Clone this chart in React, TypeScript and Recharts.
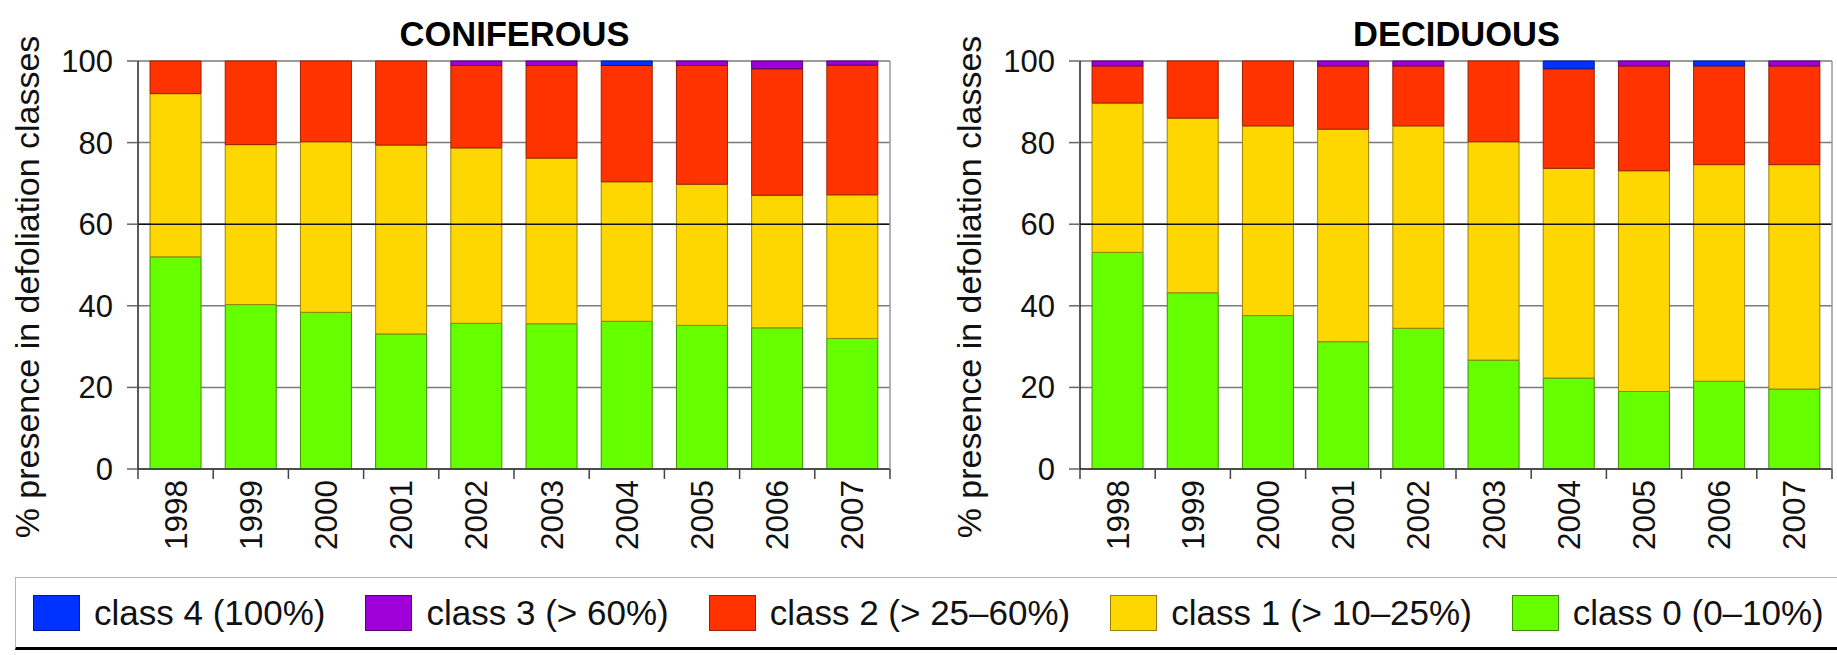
import React from 'react';
import { BarChart, Bar, XAxis, YAxis, CartesianGrid, ReferenceLine } from 'recharts';

const YEARS = ['1998', '1999', '2000', '2001', '2002', '2003', '2004', '2005', '2006', '2007'];

// coniferous, % of trees per defoliation class
const CON_CLASS0 = [52.0, 40.3, 38.4, 33.1, 35.7, 35.6, 36.2, 35.2, 34.6, 32.0];
const CON_CLASS1 = [40.0, 39.2, 41.8, 46.3, 43.0, 40.6, 34.2, 34.6, 32.5, 35.2];
const CON_CLASS2 = [8.0, 20.5, 19.8, 20.6, 20.2, 22.7, 28.5, 29.1, 31.0, 31.8];
const CON_CLASS3 = [0, 0, 0, 0, 1.1, 1.1, 0, 1.1, 1.9, 1.0];
const CON_CLASS4 = [0, 0, 0, 0, 0, 0, 1.1, 0, 0, 0];

// deciduous
const DEC_CLASS0 = [53.1, 43.2, 37.6, 31.2, 34.5, 26.7, 22.3, 19.0, 21.5, 19.6];
const DEC_CLASS1 = [36.6, 42.8, 46.5, 52.1, 49.6, 53.5, 51.4, 54.1, 53.1, 55.0];
const DEC_CLASS2 = [9.1, 14.0, 15.9, 15.5, 14.7, 19.8, 24.4, 25.7, 24.2, 24.2];
const DEC_CLASS3 = [1.2, 0, 0, 1.2, 1.2, 0, 0, 1.2, 0, 1.2];
const DEC_CLASS4 = [0, 0, 0, 0, 0, 0, 1.9, 0, 1.2, 0];

const Y_TICKS = [0, 20, 40, 60, 80, 100];

const CLASSES = [
  { key: 'c4', name: 'class 4 (100%)', fill: '#0033ff', stroke: '#001a99' },
  { key: 'c3', name: 'class 3 (> 60%)', fill: '#a000d8', stroke: '#550077' },
  { key: 'c2', name: 'class 2 (> 25–60%)', fill: '#ff3300', stroke: '#992000' },
  { key: 'c1', name: 'class 1 (> 10–25%)', fill: '#ffd700', stroke: '#9a8200' },
  { key: 'c0', name: 'class 0 (0–10%)', fill: '#66ff00', stroke: '#3d8f00' },
];

const FONT = '"Liberation Sans", Arial, Helvetica, sans-serif';

function buildRows(c0: number[], c1: number[], c2: number[], c3: number[], c4: number[]) {
  return YEARS.map((year, i) => ({ year, c0: c0[i], c1: c1[i], c2: c2[i], c3: c3[i], c4: c4[i] }));
}

const coniferous = buildRows(CON_CLASS0, CON_CLASS1, CON_CLASS2, CON_CLASS3, CON_CLASS4);
const deciduous = buildRows(DEC_CLASS0, DEC_CLASS1, DEC_CLASS2, DEC_CLASS3, DEC_CLASS4);

const CHART_W = 900;
const CHART_H = 560;
const MARGIN = { top: 61, right: 9, bottom: 0, left: 0 };
const Y_AXIS_W = 138;

// year label centred under the bar, tick marks on the category boundaries (like R barplot)
function YearTick(props: any) {
  const { x, y, payload, index, visibleTicksCount } = props;
  const half = payload && payload.offset ? payload.offset : (CHART_W - MARGIN.right - Y_AXIS_W) / YEARS.length / 2;
  const last = index === visibleTicksCount - 1;
  return (
    <g>
      <line x1={x - half} x2={x - half} y1={y} y2={y + 10} stroke="#444" strokeWidth={1.5} />
      {last && <line x1={x + half} x2={x + half} y1={y} y2={y + 10} stroke="#444" strokeWidth={1.5} />}
      <text
        transform={`translate(${x + 11},${y + 11}) rotate(-90)`}
        textAnchor="end"
        fontSize={31.5}
        fontFamily={FONT}
        fill="#111"
      >
        {payload.value}
      </text>
    </g>
  );
}

function YTitle(props: any) {
  const { viewBox } = props;
  const cy = viewBox ? viewBox.y + viewBox.height / 2 + 22 : 287;
  return (
    <text
      transform={`translate(39,${cy}) rotate(-90)`}
      textAnchor="middle"
      fontSize={34}
      fontFamily={FONT}
      fill="#111"
    >
      % presence in defoliation classes
    </text>
  );
}

function Panel({ title, data, left }: { title: string; data: any[]; left: number }) {
  const plotW = CHART_W - MARGIN.right - Y_AXIS_W;
  return (
    <div style={{ position: 'absolute', left, top: 0, width: CHART_W, height: CHART_H }}>
      <div
        style={{
          position: 'absolute',
          left: Y_AXIS_W,
          width: plotW,
          top: 15,
          textAlign: 'center',
          fontFamily: FONT,
          fontWeight: 'bold',
          fontSize: 34.5,
          lineHeight: '38px',
          color: '#000',
        }}
      >
        {title}
      </div>
      <BarChart width={CHART_W} height={CHART_H} data={data} margin={MARGIN} barCategoryGap="16%">
        <CartesianGrid vertical={false} stroke="#7a7a7a" strokeWidth={1.5} />
        <ReferenceLine y={60} stroke="#111" strokeWidth={1.5} />
        <XAxis
          dataKey="year"
          height={CHART_H - MARGIN.top - 408}
          axisLine={{ stroke: '#333', strokeWidth: 1.5 }}
          tickLine={false}
          tickSize={0}
          tickMargin={0}
          interval={0}
          tick={<YearTick />}
        />
        <YAxis
          width={Y_AXIS_W}
          domain={[0, 100]}
          ticks={Y_TICKS}
          interval={0}
          tickSize={11}
          tickMargin={14}
          axisLine={{ stroke: '#222', strokeWidth: 1.5 }}
          tickLine={{ stroke: '#666', strokeWidth: 1.5 }}
          tick={{ fontSize: 31, fontFamily: FONT, fill: '#111' }}
          label={<YTitle />}
        />
        <YAxis
          yAxisId="frame"
          orientation="right"
          width={1}
          domain={[0, 100]}
          tick={false}
          tickLine={false}
          axisLine={{ stroke: '#999', strokeWidth: 1.5 }}
        />
        {[...CLASSES].reverse().map((c) => (
          <Bar
            key={c.key}
            dataKey={c.key}
            name={c.name}
            stackId="a"
            fill={c.fill}
            stroke={c.stroke}
            strokeWidth={1}
            isAnimationActive={false}
          />
        ))}
      </BarChart>
    </div>
  );
}

function ClassLegend() {
  return (
    <div
      style={{
        position: 'absolute',
        left: 15,
        top: 577,
        width: 1840,
        height: 73,
        borderTop: '1.5px solid #b5b5b5',
        borderLeft: '1.5px solid #b5b5b5',
        borderBottom: '3px solid #000',
        display: 'flex',
        alignItems: 'center',
        boxSizing: 'border-box',
        paddingLeft: 17,
      }}
    >
      {CLASSES.map((c) => (
        <div key={c.key} style={{ display: 'flex', alignItems: 'center', marginRight: 40 }}>
          <div
            style={{
              width: 47,
              height: 36,
              background: c.fill,
              border: `1.5px solid ${c.stroke}`,
              boxSizing: 'border-box',
              marginRight: 14,
            }}
          />
          <span style={{ fontFamily: FONT, fontSize: 35, color: '#111', whiteSpace: 'nowrap' }}>{c.name}</span>
        </div>
      ))}
    </div>
  );
}

export default function App() {
  return (
    <div
      style={{
        position: 'absolute',
        left: 0,
        top: 0,
        width: 1837,
        height: 655,
        background: '#fff',
        overflow: 'hidden',
      }}
    >
      <Panel title="CONIFEROUS" data={coniferous} left={0} />
      <Panel title="DECIDUOUS" data={deciduous} left={942} />
      <ClassLegend />
    </div>
  );
}
